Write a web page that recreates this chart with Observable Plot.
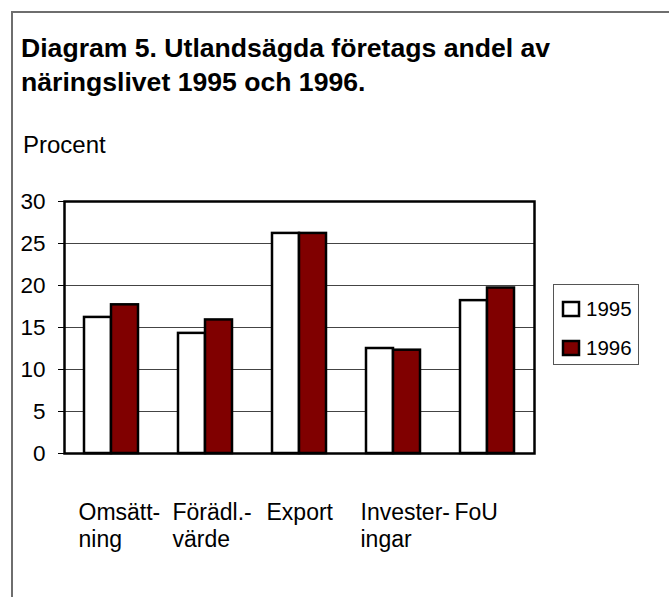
<!DOCTYPE html>
<html><head><meta charset="utf-8">
<script src="https://cdn.jsdelivr.net/npm/d3@7"></script>
<script src="https://cdn.jsdelivr.net/npm/@observablehq/plot@0.6"></script>
<style>
body{margin:0;width:669px;height:597px;overflow:hidden;background:#fff;font-family:"Liberation Sans",Arial,sans-serif;position:relative;color:#000}
#border{position:absolute;left:11px;top:11px;width:700px;height:700px;border-left:2px solid #6e6e6e;border-top:2px solid #6e6e6e}
#title{position:absolute;left:21px;top:31px;font-weight:bold;font-size:26.6px;line-height:34px;margin:0}
#unit{position:absolute;left:23px;top:131px;font-size:24px}
#chart{position:absolute;left:0;top:180px}
#legend{position:absolute;left:553px;top:284px;width:86px;height:81px;border:1.5px solid #555;box-sizing:border-box;padding:4px 0 0 9px}
#legend .plot-swatch, #legend div div{height:39px !important;padding:0 !important;margin:0 !important;display:flex !important;align-items:center !important;line-height:39px !important}
#legend div{margin:0 !important}
#legend svg{overflow:visible;margin-right:7px !important}
#legend svg rect{stroke:#000;stroke-width:2.5px}
</style>
</head><body>
<div id="border"></div>
<h1 id="title">Diagram 5. Utlandsägda företags andel av<br>näringslivet 1995 och 1996.</h1>
<div id="unit">Procent</div>
<div id="chart"></div>
<div id="legend"></div>
<script>
const categories = ["Omsätt-\nning", "Förädl.-\nvärde", "Export", "Invester-\ningar", "FoU"];
const years = ["1995", "1996"];
const values1995 = [16.2, 14.3, 26.2, 12.5, 18.2];
const values1996 = [17.7, 15.9, 26.2, 12.3, 19.7];
const yTicks = [0, 5, 10, 15, 20, 25, 30];
const colors = ["#ffffff", "#800000"];

const data = categories.flatMap((c, i) => [
  {category: c, year: years[0], value: values1995[i]},
  {category: c, year: years[1], value: values1996[i]}
]);

const font = "Liberation Sans, Arial, sans-serif";

const chart = Plot.plot({
  width: 669,
  height: 400,
  marginTop: 21,
  marginLeft: 64,
  marginRight: 135,
  marginBottom: 127,
  style: {fontFamily: font, fontSize: "22px", color: "#000", background: "transparent"},
  fx: {domain: categories, padding: 0},
  x: {domain: years, paddingInner: 0, paddingOuter: 0.709, axis: null},
  y: {domain: [0, 30], axis: null},
  color: {domain: years, range: colors},
  marks: [
    Plot.gridY(yTicks, {stroke: "#444", strokeOpacity: 1, strokeWidth: 1}),
    Plot.barY(data, {fx: "category", x: "year", y: "value", fill: "year", stroke: "#000", strokeWidth: 2.5, inset: 0}),
    Plot.frame({facet: "super", stroke: "#000", strokeWidth: 2.5}),
    Plot.axisY(yTicks, {tickSize: 6, tickPadding: 13, fontSize: 22.5, stroke: "#000", fill: "#000", label: null}),
    Plot.axisFx({anchor: "bottom", tickSize: 0, tickPadding: 48, textAnchor: "start", dx: -33, fontSize: 23, lineHeight: 1.15, fill: "#000", label: null})
  ]
});
document.getElementById("chart").append(chart);

const legend = Plot.legend({
  color: {domain: years, range: colors},
  legend: "swatches",
  columns: 1,
  swatchWidth: 16,
  swatchHeight: 14,
  style: {fontSize: "20.5px", fontFamily: font, color: "#000"}
});
document.getElementById("legend").append(legend);
</script>
</body></html>
